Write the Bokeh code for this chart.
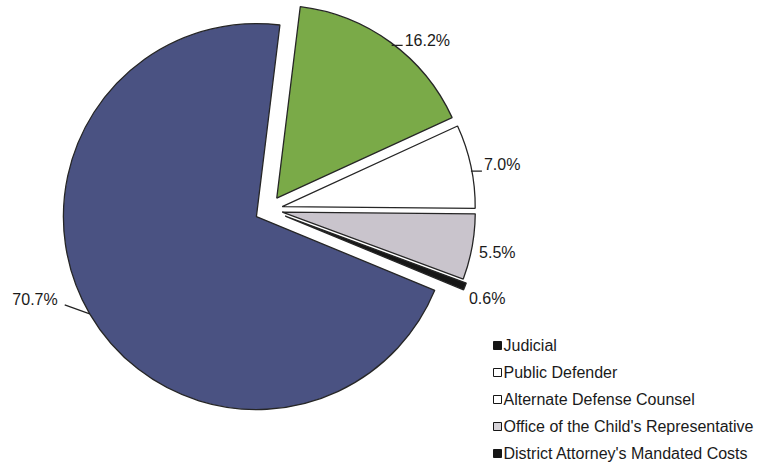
import math
from bokeh.plotting import figure
from bokeh.models import ColumnDataSource, Range1d
from bokeh.embed import file_html
from bokeh.resources import INLINE
from bokeh.core.properties import value

# ---- data ----
categories = ["Judicial", "Public Defender", "Alternate Defense Counsel",
              "Office of the Child's Representative", "District Attorney's Mandated Costs"]
shares = [70.7, 16.2, 7.0, 5.5, 0.6]
pct_labels = ["70.7%", "16.2%", "7.0%", "5.5%", "0.6%"]
slice_colors = ["#4a5282", "#7aaa48", "#ffffff", "#c9c4cc", "#161616"]
legend_swatch = ["#161616", "#ffffff", "#ffffff", "#d6d3d8", "#161616"]

# ---- layout ----
W, H = 776, 463
FONT = "Liberation Sans"
CX, CY = 268, H - 209      # pie centre (data coords, y up)
R = 193
EXPLODE = 14
START_DEG = 83.0
clock_order = [1, 2, 3, 4, 0]   # slices drawn clockwise from the top
explode_extra = {4: 4}

# label offsets from the arc midpoint (dx, dy in screen px, y down), alignment, leader
label_layout = {
    0: (-32, -14, "right", (0, 0, -25, -9)),
    1: (14, -2, "left", (1, 3, 12, 3)),
    2: (13, -2, "left", (0, 5, 11, 5)),
    3: (7, 6, "left", None),
    4: (4, 12, "left", None),
}

p = figure(width=W, height=H, x_range=Range1d(0, W), y_range=Range1d(0, H),
           output_backend="svg", toolbar_location=None, min_border=0,
           outline_line_color=None, background_fill_color="white")
p.axis.visible = False
p.grid.visible = False

total = sum(shares)
xs, ys, starts, ends, cols = [], [], [], [], []
lab_x, lab_y, lab_t, lab_align = [], [], [], []
ld_x0, ld_y0, ld_x1, ld_y1 = [], [], [], []
ang = START_DEG
for i in clock_order:
    span = shares[i] / total * 360.0
    a_end = ang
    a_start = ang - span
    mid = math.radians(ang - span / 2)
    ex = EXPLODE + explode_extra.get(i, 0)
    ax = CX + ex * math.cos(mid)
    ay = CY + ex * math.sin(mid)
    xs.append(ax); ys.append(ay)
    starts.append(math.radians(a_start)); ends.append(math.radians(a_end))
    cols.append(slice_colors[i])
    px = ax + R * math.cos(mid)
    py = ay + R * math.sin(mid)
    dx, dy, align, leader = label_layout[i]
    lab_x.append(px + dx); lab_y.append(py - dy)
    lab_t.append(pct_labels[i]); lab_align.append(align)
    if leader:
        ld_x0.append(px + leader[0]); ld_y0.append(py - leader[1])
        ld_x1.append(px + leader[2]); ld_y1.append(py - leader[3])
    ang -= span

src = ColumnDataSource(dict(x=xs, y=ys, s=starts, e=ends, c=cols))
p.wedge(x="x", y="y", radius=R, start_angle="s", end_angle="e", fill_color="c",
        line_color="#262626", line_width=1.3, source=src)

p.segment(x0=ld_x0, y0=ld_y0, x1=ld_x1, y1=ld_y1, line_color="#222222", line_width=1.2)

lsrc = ColumnDataSource(dict(x=lab_x, y=lab_y, t=lab_t, a=lab_align))
p.text(x="x", y="y", text="t", text_align="a", text_baseline="middle",
       text_font=value(FONT), text_font_size="16px", text_color="#1a1a1a", source=lsrc)

# legend
LX, LY0, LDY = 497, 345, 27
leg_y = [H - (LY0 + LDY * k) for k in range(len(categories))]
p.scatter(x=[LX] * len(categories), y=leg_y, marker="square", size=8,
          fill_color=legend_swatch, line_color="#161616", line_width=1)
p.text(x=[LX + 6] * len(categories), y=leg_y, text=categories, text_align="left",
       text_baseline="middle", text_font=value(FONT), text_font_size="16px",
       text_color="#1a1a1a")

open("out.html", "w").write(file_html(p, INLINE))
